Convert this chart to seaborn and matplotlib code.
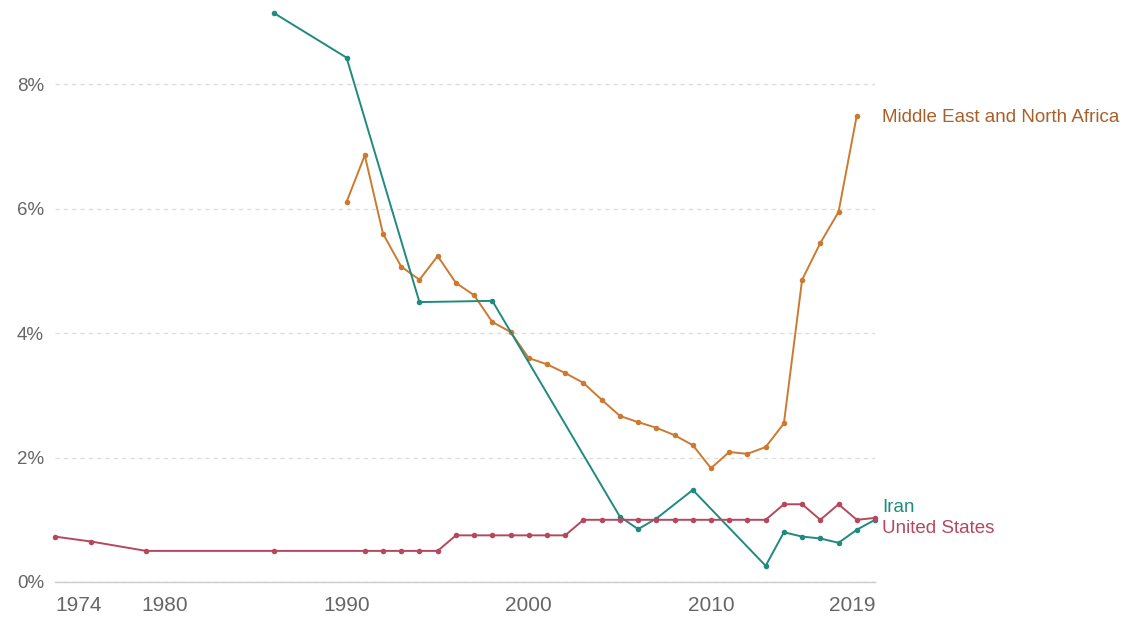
import numpy as np
import pandas as pd
import matplotlib
matplotlib.use("Agg")
import matplotlib.pyplot as plt
import seaborn as sns

# ============================================
# Data (in %)
# ============================================
iran_years = [1986, 1990, 1994, 1998, 2005, 2006, 2007, 2009, 2013,
              2014, 2015, 2016, 2017, 2018, 2019]
iran_values = [9.15, 8.43, 4.50, 4.52, 1.05, 0.85, 1.02, 1.48, 0.26,
               0.80, 0.73, 0.70, 0.63, 0.84, 1.00]

mena_years = list(range(1990, 2019))
mena_values = [6.11, 6.86, 5.60, 5.07, 4.86, 5.24, 4.81, 4.61, 4.18, 4.02,
               3.60, 3.50, 3.36, 3.20, 2.93, 2.67, 2.57, 2.48, 2.36, 2.20,
               1.83, 2.09, 2.06, 2.17, 2.55, 4.86, 5.45, 5.95, 7.50]

us_years = [1974, 1976, 1979, 1986, 1991, 1992, 1993, 1994, 1995, 1996,
            1997, 1998, 1999, 2000, 2001, 2002, 2003, 2004, 2005, 2006,
            2007, 2008, 2009, 2010, 2011, 2012, 2013, 2014, 2015, 2016,
            2017, 2018, 2019]
us_values = [0.73, 0.65, 0.50, 0.50, 0.50, 0.50, 0.50, 0.50, 0.50, 0.75,
             0.75, 0.75, 0.75, 0.75, 0.75, 0.75, 1.00, 1.00, 1.00, 1.00,
             1.00, 1.00, 1.00, 1.00, 1.00, 1.00, 1.00, 1.25, 1.25, 1.00,
             1.25, 1.00, 1.03]

x_ticks = [1974, 1980, 1990, 2000, 2010, 2019]
y_ticks = [0, 2, 4, 6, 8]

entities = ["Middle East and North Africa", "Iran", "United States"]
colors = {
    "Middle East and North Africa": "#CC7A30",
    "Iran": "#1F8A7F",
    "United States": "#B5475E",
}
label_colors = {
    "Middle East and North Africa": "#A8602A",
    "Iran": "#1F8A7F",
    "United States": "#B5475E",
}

df = pd.concat([
    pd.DataFrame({"year": mena_years, "value": mena_values, "entity": entities[0]}),
    pd.DataFrame({"year": iran_years, "value": iran_values, "entity": entities[1]}),
    pd.DataFrame({"year": us_years, "value": us_values, "entity": entities[2]}),
], ignore_index=True)

# ============================================
# Figure
# ============================================
sns.set_style("white")
plt.rcParams["font.family"] = ["Liberation Sans", "DejaVu Sans"]

fig = plt.figure(figsize=(11.28, 6.18), dpi=100)
ax = fig.add_axes([55 / 1128, 36 / 618, 820 / 1128, 582 / 618])

sns.lineplot(data=df, x="year", y="value", hue="entity", palette=colors,
             hue_order=entities, marker="o", markersize=4, markeredgewidth=0,
             linewidth=1.4, legend=False, ax=ax)
for line in ax.lines:
    line.set_clip_on(False)

ax.set_xlim(1974, 2019)
ax.set_ylim(0, 582 / 62.2)

# gridlines & spines
ax.set_yticks(y_ticks)
ax.set_yticklabels([f"{v}%" for v in y_ticks])
ax.yaxis.grid(True, linestyle=(0, (3, 3)), color="#dddddd", linewidth=1)
ax.set_axisbelow(True)
for s in ["top", "right", "left"]:
    ax.spines[s].set_visible(False)
ax.spines["bottom"].set_color("#cccccc")
ax.spines["bottom"].set_linewidth(1)

ax.set_xticks(x_ticks)
ax.set_xticklabels([str(y) for y in x_ticks])
ax.tick_params(axis="x", length=5, color="#cccccc", labelsize=15,
               labelcolor="#666666", pad=5)
ax.tick_params(axis="y", length=0, labelsize=13.5, labelcolor="#666666", pad=8)
xlabels = ax.get_xticklabels()
xlabels[0].set_horizontalalignment("left")
xlabels[-1].set_horizontalalignment("right")
ax.xaxis.get_major_ticks()[0].tick1line.set_visible(False)
ax.set_xlabel("")
ax.set_ylabel("")

# line-end labels
ends = {
    "Middle East and North Africa": (2019, mena_values[-1], -2),
    "Iran": (2019, iran_values[-1], 12),
    "United States": (2019, us_values[-1], -11),
}
for name, (x, y, dy) in ends.items():
    ax.annotate(name, xy=(x, y), xytext=(7, dy), textcoords="offset pixels",
                ha="left", va="center", fontsize=13.5,
                color=label_colors[name], annotation_clip=False)

fig.savefig("out.png", dpi=100)
